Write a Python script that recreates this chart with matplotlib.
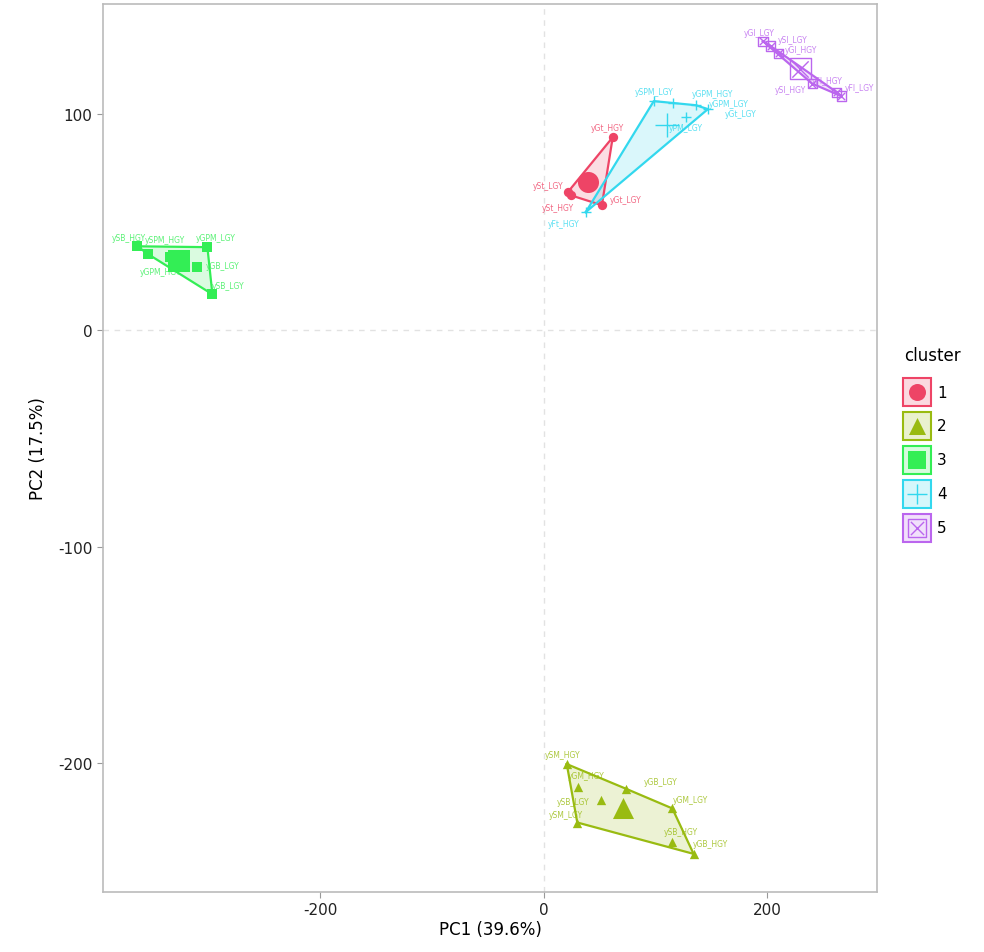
import numpy as np
import matplotlib
matplotlib.use('Agg')
import matplotlib.pyplot as plt

plt.rcParams['axes.unicode_minus'] = False

# ---- data ----
CL = [1, 2, 3, 4, 5]
COLS = {1: '#EE4466', 2: '#99BB11', 3: '#33EE55', 4: '#33D8EE', 5: '#BB66EE'}
MK = {1: 'o', 2: '^', 3: 's', 4: '+', 5: 's'}

pc1_c1 = [61.7, 21.5, 24.0, 52.0]
pc2_c1 = [89.2, 63.8, 62.4, 57.8]
lab_c1 = ['yGt_HGY', 'ySt_LGY', 'ySt_HGY', 'yGt_LGY']

pc1_c2 = [20.6, 31.0, 51.0, 74.0, 115.0, 30.0, 115.0, 134.0]
pc2_c2 = [-200.5, -211.0, -217.0, -212.0, -221.0, -227.5, -236.7, -242.0]
lab_c2 = ['ySM_HGY', 'yGM_HGY', 'ySB_LGY', 'yGB_LGY', 'yGM_LGY', 'ySM_LGY', 'ySB_HGY', 'yGB_HGY']

pc1_c3 = [-363.3, -353.5, -300.7, -309.6, -296.2, -333.8]
pc2_c3 = [38.8, 35.1, 38.4, 29.1, 16.6, 33.7]
lab_c3 = ['ySB_HGY', 'ySPM_HGY', 'yGPM_LGY', 'yGB_LGY', 'ySB_LGY', 'yGPM_HGY']

pc1_c4 = [98.4, 115.4, 136.0, 146.8, 127.0, 37.6]
pc2_c4 = [105.9, 105.0, 104.0, 102.2, 98.5, 54.6]
lab_c4 = ['ySPM_LGY', 'yGPM_HGY', 'yGPM_LGY', 'yGt_LGY', 'yPM_LGY', 'yFt_HGY']

pc1_c5 = [196.0, 203.0, 210.0, 240.0, 262.0, 266.0]
pc2_c5 = [133.6, 131.3, 128.0, 114.0, 110.0, 108.2]
lab_c5 = ['yGl_LGY', 'ySl_LGY', 'yGl_HGY', 'ySl_HGY', 'yFl_HGY', 'yFl_LGY']

DATA = {1: (pc1_c1, pc2_c1, lab_c1), 2: (pc1_c2, pc2_c2, lab_c2),
        3: (pc1_c3, pc2_c3, lab_c3), 4: (pc1_c4, pc2_c4, lab_c4),
        5: (pc1_c5, pc2_c5, lab_c5)}

# label nudges in pixels (repel-like placement)
NUDGE = {
    1: [(-5, 10), (-20, 7), (-13, -12), (24, 6)],
    2: [(-4, 10), (8, 11), (-28, -2), (34, 7), (18, 9), (-11, 8), (8, 11), (17, 10)],
    3: [(-9, 9), (17, 15), (8, 10), (25, 2), (16, 9), (-10, -14)],
    4: [(0, 10), (40, 10), (33, 2), (33, -4), (0, -10), (-22, -11)],
    5: [(-4, 9), (22, 7), (22, 4), (-22, -6), (-10, 12), (18, 9)],
}


def hull(pts):
    pts = sorted(set(map(tuple, pts)))
    def cross(o, a, b):
        return (a[0]-o[0])*(b[1]-o[1]) - (a[1]-o[1])*(b[0]-o[0])
    lo, up = [], []
    for p in pts:
        while len(lo) >= 2 and cross(lo[-2], lo[-1], p) <= 0: lo.pop()
        lo.append(p)
    for p in reversed(pts):
        while len(up) >= 2 and cross(up[-2], up[-1], p) <= 0: up.pop()
        up.append(p)
    return np.array(lo[:-1] + up[:-1])


def draw_marker(ax, x, y, k, size, **kw):
    c = COLS[k]
    if k == 5:
        ax.scatter(x, y, marker='s', s=size, facecolors='none', edgecolors=c, linewidths=1.0, **kw)
        ax.scatter(x, y, marker='x', s=size*0.6, c=c, linewidths=1.0, **kw)
    elif k == 4:
        ax.scatter(x, y, marker='+', s=size*1.3, c=c, linewidths=1.0, **kw)
    else:
        ax.scatter(x, y, marker=MK[k], s=size, c=c, linewidths=0, **kw)


fig = plt.figure(figsize=(9.84, 9.53), dpi=100)
ax = fig.add_axes([0.1047, 0.063, 0.7866, 0.9318])

ax.axhline(0, color='#E2E2E2', ls=(0, (4, 4)), lw=1, zorder=0)
ax.axvline(0, color='#E2E2E2', ls=(0, (4, 4)), lw=1, zorder=0)

for k in CL:
    xs, ys, labs = DATA[k]
    c = COLS[k]
    h = hull(np.column_stack([xs, ys]))
    ax.fill(h[:, 0], h[:, 1], color=c, alpha=0.18, lw=0, zorder=1)
    hc = np.vstack([h, h[:1]])
    ax.plot(hc[:, 0], hc[:, 1], color=c, lw=1.6, zorder=2)
    draw_marker(ax, xs, ys, k, 45, zorder=3)
    draw_marker(ax, [np.mean(xs)], [np.mean(ys)], k, 230, zorder=4)
    for x, y, t, (dx, dy) in zip(xs, ys, labs, NUDGE[k]):
        ax.annotate(t, (x, y), xytext=(dx, dy), textcoords='offset pixels',
                    fontsize=5.5, color=c, alpha=0.8, ha='center', va='center', zorder=5)

ax.set_xlim(-394, 298)
ax.set_ylim(-259.6, 150.8)
ax.set_xticks([-200, 0, 200])
ax.set_yticks([-200, -100, 0, 100])
ax.tick_params(direction='out', length=4, color='#999999', labelsize=11, labelcolor='#222222')
for s in ax.spines.values():
    s.set_color('#BBBBBB'); s.set_linewidth(1.2)
ax.set_xlabel('PC1 (39.6%)', fontsize=12, labelpad=2)
ax.set_ylabel('PC2 (17.5%)', fontsize=12, labelpad=8)

# legend
fig.text(0.919, 0.626, 'cluster', fontsize=12, ha='left', va='center')
key_w, key_h = 28/984, 28/953
for i, k in enumerate(CL):
    x0 = 903/984
    y0 = 1 - (379 + i*34 + 28)/953
    c = COLS[k]
    fig.patches.append(plt.Rectangle((x0, y0), key_w, key_h, transform=fig.transFigure,
                                     facecolor=c, alpha=0.2, edgecolor='none'))
    fig.patches.append(plt.Rectangle((x0, y0), key_w, key_h, transform=fig.transFigure,
                                     facecolor='none', edgecolor=c, lw=1.5))
    lax = fig.add_axes([x0, y0, key_w, key_h])
    lax.set_xlim(-1, 1); lax.set_ylim(-1, 1); lax.axis('off')
    draw_marker(lax, [0], [0], k, 150)
    fig.text(x0 + key_w + 6/984, y0 + key_h/2, str(k), fontsize=11, va='center', ha='left')

fig.savefig('out.png', dpi=100, facecolor='white')
